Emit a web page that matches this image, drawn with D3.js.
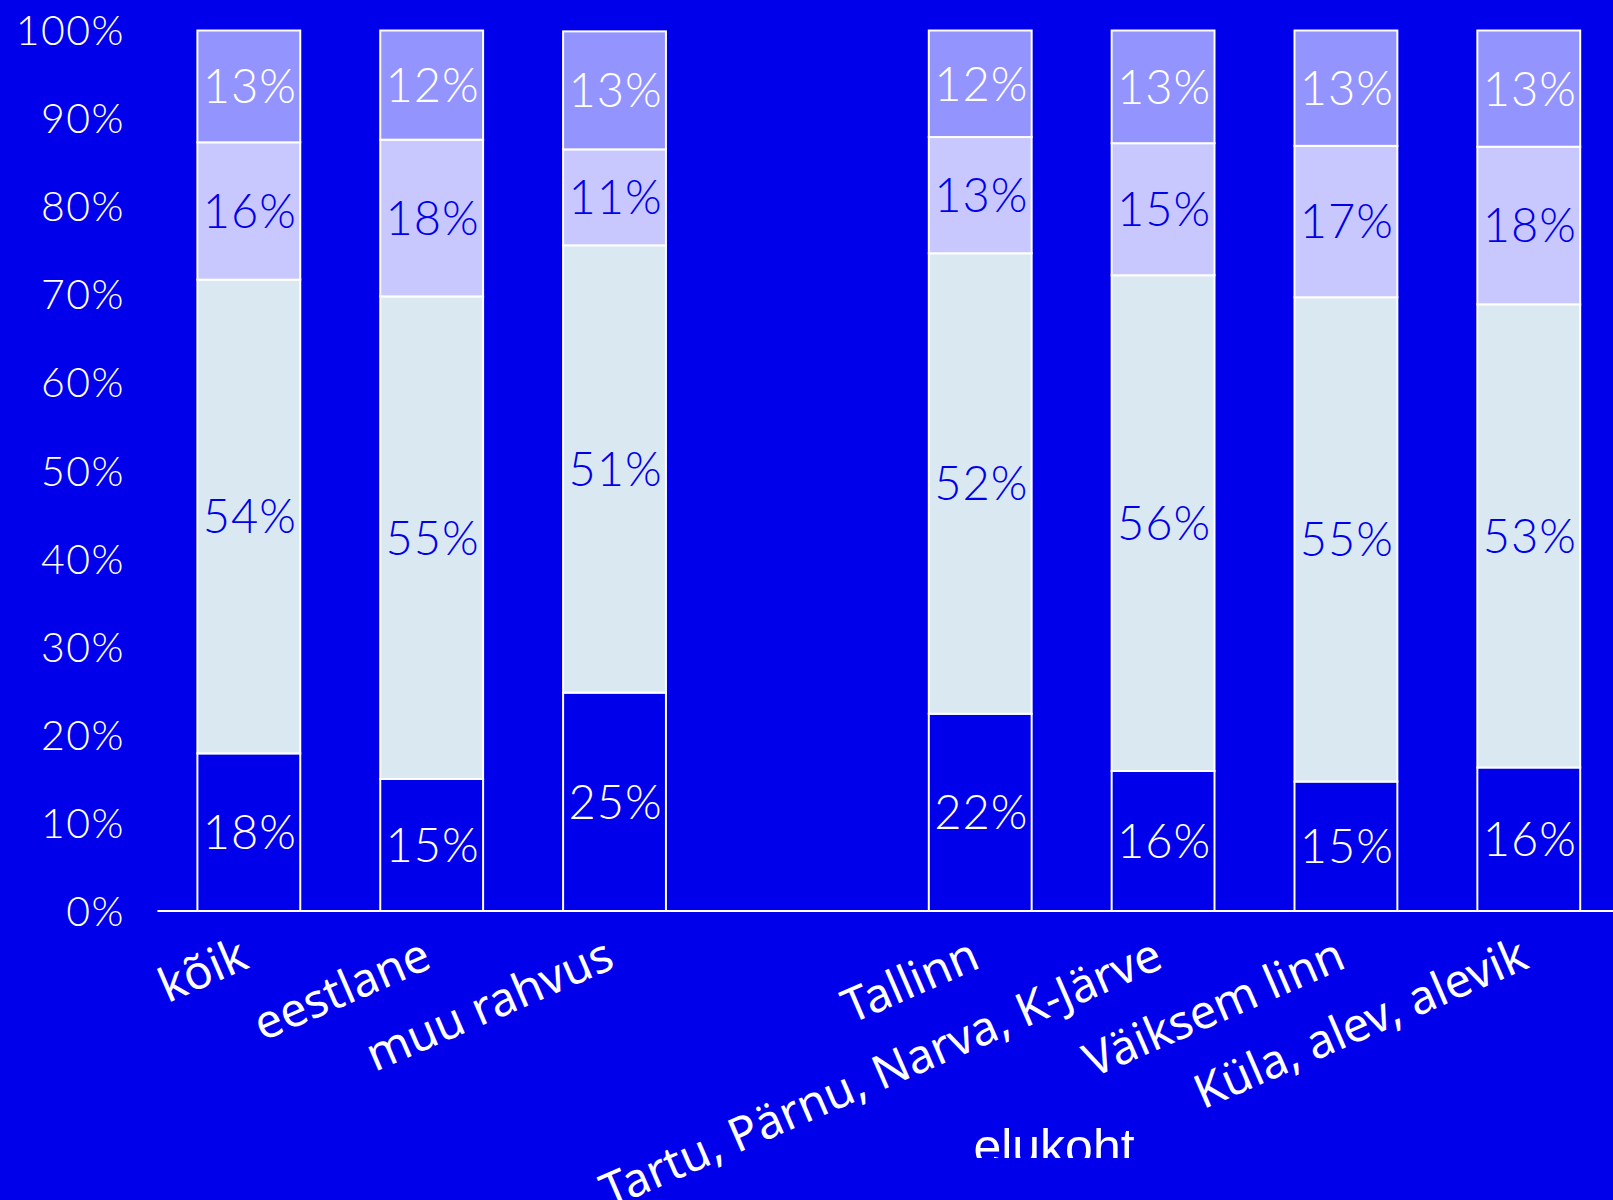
<!DOCTYPE html>
<html lang="et">
<head>
  <meta charset="UTF-8">
  <title>elukoht</title>
  <script src="https://d3js.org/d3.v7.min.js"></script>
  <style>
    html, body { margin: 0; padding: 0; background: #0000eb; }
    svg { display: block; }
    .tick-label { font-family: Lato, sans-serif; font-weight: 300; font-size: 41px; letter-spacing: 1.5px; fill: #fff; text-anchor: end; }
    .pct { font-family: Lato, sans-serif; font-weight: 300; font-size: 47px; letter-spacing: 1px; text-anchor: middle; }
    .cat { font-family: "Noto Sans", sans-serif; font-size: 47px; fill: #fff; text-anchor: end; }
    .title { font-family: "Liberation Sans", sans-serif; font-size: 50px; fill: #fff; text-anchor: middle; }
  </style>
</head>
<body>
  <svg id="chart" width="1613" height="1200"></svg>

  <script>
    // kategooriad (tühi koht "muu rahvus" ja "Tallinn" vahel)
    const categories = ["kõik", "eestlane", "muu rahvus", "Tallinn",
      "Tartu, Pärnu, Narva, K-Järve", "Väiksem linn", "Küla, alev, alevik"];
    const gapAfter = "muu rahvus";

    // seeriad alt üles, %
    const seriesA = [17.9, 15.0, 24.8, 22.4, 15.9, 14.7, 16.3];
    const seriesB = [53.8, 54.8, 50.8, 52.3, 56.3, 55.0, 52.6];
    const seriesC = [15.6, 17.8, 10.9, 13.2, 15.0, 17.2, 17.9];
    const seriesD = [12.7, 12.4, 13.4, 12.1, 12.8, 13.1, 13.2];

    const yTicks = [0, 10, 20, 30, 40, 50, 60, 70, 80, 90, 100];
    const xTitle = "elukoht";

    const keys = ["a", "b", "c", "d"];
    const fills = { a: "#0000eb", b: "#dae8f1", c: "#c8c8ff", d: "#9494ff" };
    const textFill = { a: "#fff", b: "#0000eb", c: "#0000eb", d: "#fff" };

    const rows = categories.map((cat, i) => ({
      cat, a: seriesA[i], b: seriesB[i], c: seriesC[i], d: seriesD[i]
    }));

    const domain = [];
    categories.forEach(c => { domain.push(c); if (c === gapAfter) domain.push("__gap__"); });

    const svg = d3.select("#chart");

    const x = d3.scaleBand()
      .domain(domain)
      .range([157.4, 1620.2])
      .paddingInner(0.4375)
      .paddingOuter(0.21875);

    const y = d3.scaleLinear().domain([0, 100]).range([911, 30.5]);

    const stacked = d3.stack().keys(keys)(rows);

    // tulbad
    const layer = svg.append("g").selectAll("g")
      .data(stacked)
      .join("g");

    layer.selectAll("rect")
      .data(s => s.map(d => ({ key: s.key, d })))
      .join("rect")
      .attr("x", p => x(p.d.data.cat))
      .attr("y", p => y(p.d[1]))
      .attr("width", x.bandwidth())
      .attr("height", p => y(p.d[0]) - y(p.d[1]))
      .attr("fill", p => fills[p.key])
      .attr("stroke", "#fff")
      .attr("stroke-width", 2);

    layer.selectAll("text")
      .data(s => s.map(d => ({ key: s.key, d })))
      .join("text")
      .attr("class", "pct")
      .attr("x", p => x(p.d.data.cat) + x.bandwidth() / 2 + 1)
      .attr("y", p => (y(p.d[0]) + y(p.d[1])) / 2)
      .attr("dy", "0.36em")
      .attr("fill", p => textFill[p.key])
      .text(p => Math.round(p.d.data[p.key]) + "%");

    // y telg (ainult sildid)
    svg.append("g").selectAll("text")
      .data(yTicks)
      .join("text")
      .attr("class", "tick-label")
      .attr("x", 125)
      .attr("y", d => y(d))
      .attr("dy", "0.36em")
      .text(d => d + "%");

    // x telje joon
    svg.append("line")
      .attr("x1", x.range()[0]).attr("x2", 1613)
      .attr("y1", y(0)).attr("y2", y(0))
      .attr("stroke", "#fff").attr("stroke-width", 2);

    // kategooriate sildid
    svg.append("g").selectAll("text")
      .data(categories)
      .join("text")
      .attr("class", "cat")
      .attr("transform", d => `translate(${x(d) + x.bandwidth() / 2 + 2},${y(0) + 56}) rotate(-23.5)`)
      .text(d => d);

    // telje pealkiri on originaalis alt ära lõigatud
    svg.append("clipPath").attr("id", "titleClip")
      .append("rect").attr("x", 0).attr("y", 0).attr("width", 1613).attr("height", 1158);

    svg.append("text")
      .attr("class", "title")
      .attr("clip-path", "url(#titleClip)")
      .attr("x", 1054)
      .attr("y", 1164)
      .text(xTitle);
  </script>
</body>
</html>
